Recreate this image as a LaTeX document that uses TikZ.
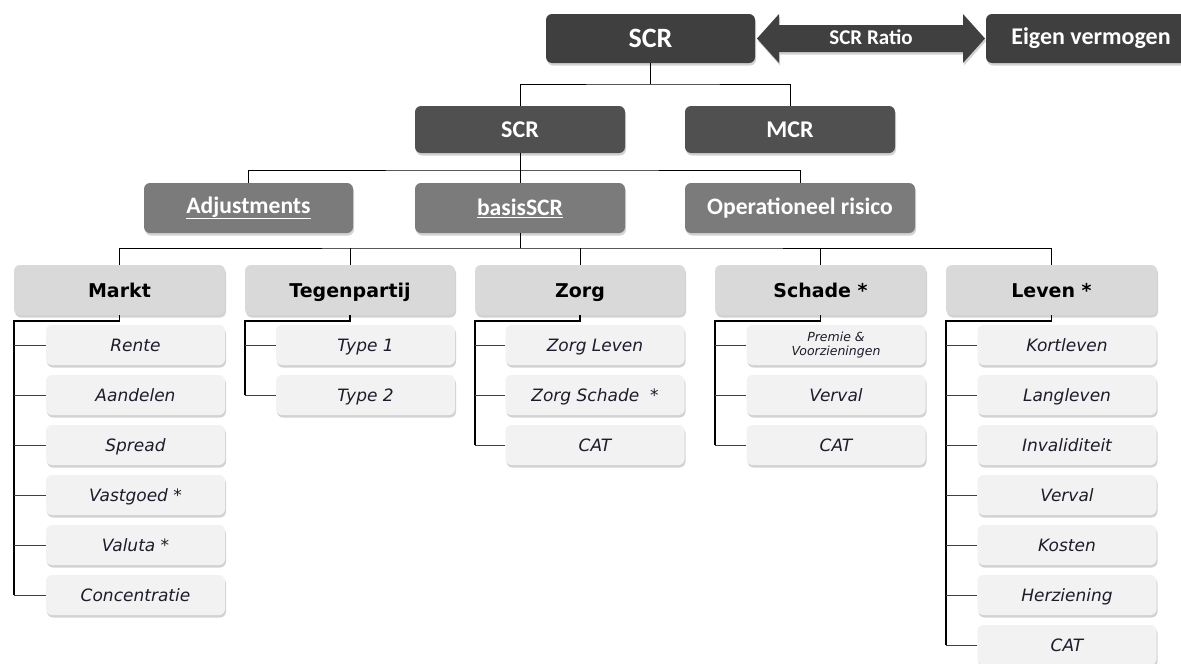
\documentclass[tikz,border=0pt]{standalone}
\usepackage{fontspec}
\setmainfont{DejaVu Sans}
\newfontfamily\topfont{Carlito}
\usetikzlibrary{shadows}
\definecolor{cTop}{HTML}{3F3F3F}
\definecolor{cMid}{HTML}{505050}
\definecolor{cThird}{HTML}{7B7B7B}
\definecolor{cHead}{HTML}{D9D9D9}
\definecolor{cSub}{HTML}{F2F2F2}
\definecolor{cArrow}{HTML}{404040}
\definecolor{cSubText}{HTML}{1C1C2C}
\begin{document}
\begin{tikzpicture}[x=1pt,y=-1pt,
  shad/.style={drop shadow={opacity=0.35, shadow xshift=1pt, shadow yshift=-2.5pt}},
  box/.style={rounded corners=6pt, inner sep=0pt, align=center, shad},
  topbox/.style={box, fill=cTop, text=white, font=\topfont\bfseries\fontsize{28}{32}\selectfont, minimum height=49pt},
  midbox/.style={box, fill=cMid, text=white, font=\topfont\bfseries\fontsize{24}{28}\selectfont, minimum width=210pt, minimum height=47pt},
  thirdbox/.style={box, fill=cThird, text=white, font=\topfont\bfseries\fontsize{23.6}{27}\selectfont, minimum height=50pt},
  headbox/.style={box, fill=cHead, text=black, font=\bfseries\fontsize{19}{23}\selectfont, minimum width=211pt, minimum height=50pt, text height=15.5pt, text depth=1.5pt},
  subbox/.style={box, fill=cSub, text=cSubText, font=\itshape\fontsize{17}{20}\selectfont, minimum width=179pt, minimum height=40pt, text height=14pt, text depth=2pt},
  link/.style={draw=black, line width=1pt},
  trunk/.style={draw=black, line width=1.6pt},
  tick/.style={draw=black!75, line width=0.9pt}
]
\useasboundingbox (0,0) rectangle (1181,664);
\fill[white] (0,0) rectangle (1181,664);

% top row
\node[topbox, minimum width=209pt] (top) at (650.5,38.5) {SCR};
\node[topbox, minimum width=210pt, font=\topfont\bfseries\fontsize{24}{28}\selectfont] (eigen) at (1091,38.5) {Eigen vermogen};
\fill[cArrow, shad] (757,38.5) -- (779,14) -- (779,25) -- (963,25) -- (963,14) -- (985,38.5)
  -- (963,63) -- (963,52) -- (779,52) -- (779,63) -- cycle;
\node[text=white, font=\topfont\bfseries\fontsize{21}{25}\selectfont] (ratio) at (871,37.5) {SCR Ratio};

% second row
\node[midbox] (scr) at (520,129.5) {SCR};
\node[midbox] (mcr) at (790,129.5) {MCR};

% third row
\node[thirdbox, minimum width=209pt] (adj) at (248.5,208) {\underline{Adjustments}};
\node[thirdbox, minimum width=210pt] (basis) at (520,208) {\underline{basisSCR}};
\node[thirdbox, minimum width=230pt] (oper) at (800,208) {Operationeel risico};

% module headers
\node[headbox] (markt) at (119.5,290) {Markt};
\node[headbox, minimum width=210pt] (tegen) at (350,290) {Tegenpartij};
\node[headbox, minimum width=210pt] (zorg) at (580,290) {Zorg};
\node[headbox] (schade) at (820.5,290) {Schade *};
\node[headbox] (leven) at (1051.5,290) {Leven *};

% Markt
\node[subbox] (m1) at (135.5,345) {Rente};
\node[subbox] (m2) at (135.5,395) {Aandelen};
\node[subbox] (m3) at (135.5,445) {Spread};
\node[subbox] (m4) at (135.5,495) {Vastgoed *};
\node[subbox] (m5) at (135.5,545) {Valuta *};
\node[subbox] (m6) at (135.5,595) {Concentratie};
% Tegenpartij
\node[subbox] (t1) at (365.5,345) {Type 1};
\node[subbox] (t2) at (365.5,395) {Type 2};
% Zorg
\node[subbox] (z1) at (595,345) {Zorg Leven};
\node[subbox] (z2) at (595,395) {Zorg Schade\ \ *};
\node[subbox] (z3) at (595,445) {CAT};
% Schade
\node[subbox, text height={}, text depth={}, font=\itshape\fontsize{12.5}{14.5}\selectfont] (s1) at (836,345) {Premie \&\\Voorzieningen};
\node[subbox] (s2) at (836,395) {Verval};
\node[subbox] (s3) at (836,445) {CAT};
% Leven
\node[subbox] (l1) at (1067,345) {Kortleven};
\node[subbox] (l2) at (1067,395) {Langleven};
\node[subbox] (l3) at (1067,445) {Invaliditeit};
\node[subbox] (l4) at (1067,495) {Verval};
\node[subbox] (l5) at (1067,545) {Kosten};
\node[subbox] (l6) at (1067,595) {Herziening};
\node[subbox] (l7) at (1067,645) {CAT};

% upper connectors
\coordinate (j1) at (650.5,84);
\coordinate (j2) at (520,170);
\coordinate (j3) at (520,248);
\draw[link] (top.south) -- (j1);
\draw[link] (scr.north) |- (j1) -| (mcr.north);
\draw[link] (scr.south) -- (basis.north);
\draw[link] (adj.north) |- (j2) -| (oper.north);
\draw[link] (basis.south) -- (j3);
\draw[link] (markt.north) |- (j3) -| (leven.north);
\draw[link] (tegen.north) -- (tegen.north |- j3);
\draw[link] (zorg.north) -- (zorg.north |- j3);
\draw[link] (schade.north) -- (schade.north |- j3);

% module trunks
\draw[trunk] (markt.south) -- ++(0,6) -| (m6.west -| markt.west);
\foreach \c in {m1,m2,m3,m4,m5,m6} \draw[tick] (\c.west) -- (\c.west -| markt.west);
\draw[trunk] (tegen.south) -- ++(0,6) -| (t2.west -| tegen.west);
\foreach \c in {t1,t2} \draw[tick] (\c.west) -- (\c.west -| tegen.west);
\draw[trunk] (zorg.south) -- ++(0,6) -| (z3.west -| zorg.west);
\foreach \c in {z1,z2,z3} \draw[tick] (\c.west) -- (\c.west -| zorg.west);
\draw[trunk] (schade.south) -- ++(0,6) -| (s3.west -| schade.west);
\foreach \c in {s1,s2,s3} \draw[tick] (\c.west) -- (\c.west -| schade.west);
\draw[trunk] (leven.south) -- ++(0,6) -| (l7.west -| leven.west);
\foreach \c in {l1,l2,l3,l4,l5,l6,l7} \draw[tick] (\c.west) -- (\c.west -| leven.west);
\end{tikzpicture}
\end{document}
